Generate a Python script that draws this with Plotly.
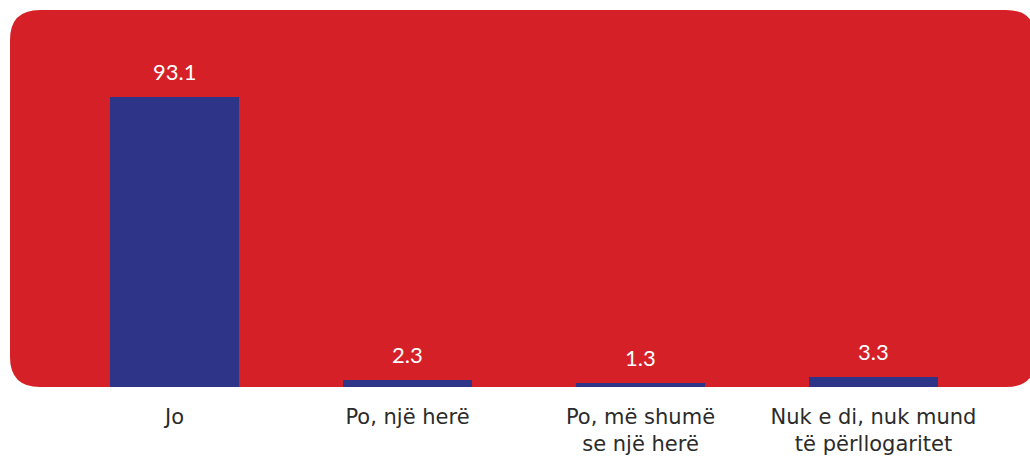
import plotly.graph_objects as go

# Survey answers and their shares (%)
categories = ["Jo", "Po, një herë", "Po, më shumë<br>se një herë", "Nuk e di, nuk mund<br>të përllogaritet"]
values = [93.1, 2.3, 1.3, 3.3]
value_labels = ["93.1", "2.3", "1.3", "3.3"]

RED = "#D52027"
BLUE = "#2E3589"
TEXT = "#2B2B2B"
FONT = "Lato, Open Sans, sans-serif"
TICK_FONT = "DejaVu Sans, Open Sans, sans-serif"

W, H = 1030, 456
ML, MR, MT, MB = 58, 40, 10, 69
plot_w = W - ML - MR
plot_h = H - MT - MB

fig = go.Figure()
fig.add_trace(go.Bar(
    x=categories,
    y=values,
    marker=dict(color=BLUE, line=dict(width=0)),
    width=0.554,
    hoverinfo="skip",
))

# Value labels above each bar
for cat, v, lab in zip(categories, values, value_labels):
    fig.add_annotation(
        x=cat, y=v, text=lab, showarrow=False,
        yanchor="bottom", yshift=10,
        font=dict(family=FONT, size=22, color="white"),
    )

# Rounded red panel behind the bars (paper coordinates)
x0 = (10 - ML) / plot_w
x1 = (1036 - ML) / plot_w
y0 = 0.0
y1 = (H - MB - 10) / plot_h
rx = 30 / plot_w
ry = 30 / plot_h
path = (
    f"M {x0 + rx},{y1} L {x1 - rx},{y1} Q {x1},{y1} {x1},{y1 - ry} "
    f"L {x1},{y0 + ry} Q {x1},{y0} {x1 - rx},{y0} "
    f"L {x0 + rx},{y0} Q {x0},{y0} {x0},{y0 + ry} "
    f"L {x0},{y1 - ry} Q {x0},{y1} {x0 + rx},{y1} Z"
)
fig.add_shape(type="path", path=path, xref="paper", yref="paper",
              fillcolor=RED, line=dict(width=0), layer="below")

fig.update_layout(
    width=W, height=H,
    margin=dict(l=ML, r=MR, t=MT, b=MB),
    paper_bgcolor="white",
    plot_bgcolor="rgba(0,0,0,0)",
    showlegend=False,
    bargap=0,
    xaxis=dict(
        showgrid=False, zeroline=False, showline=False, ticks="",
        tickfont=dict(family=TICK_FONT, size=21, color=TEXT),
        ticklabelstandoff=15,
        automargin=False,
        fixedrange=True,
    ),
    yaxis=dict(
        range=[0, 121], showgrid=False, zeroline=False, showline=False,
        showticklabels=False, ticks="", fixedrange=True,
    ),
)

fig.write_html("out.html")
